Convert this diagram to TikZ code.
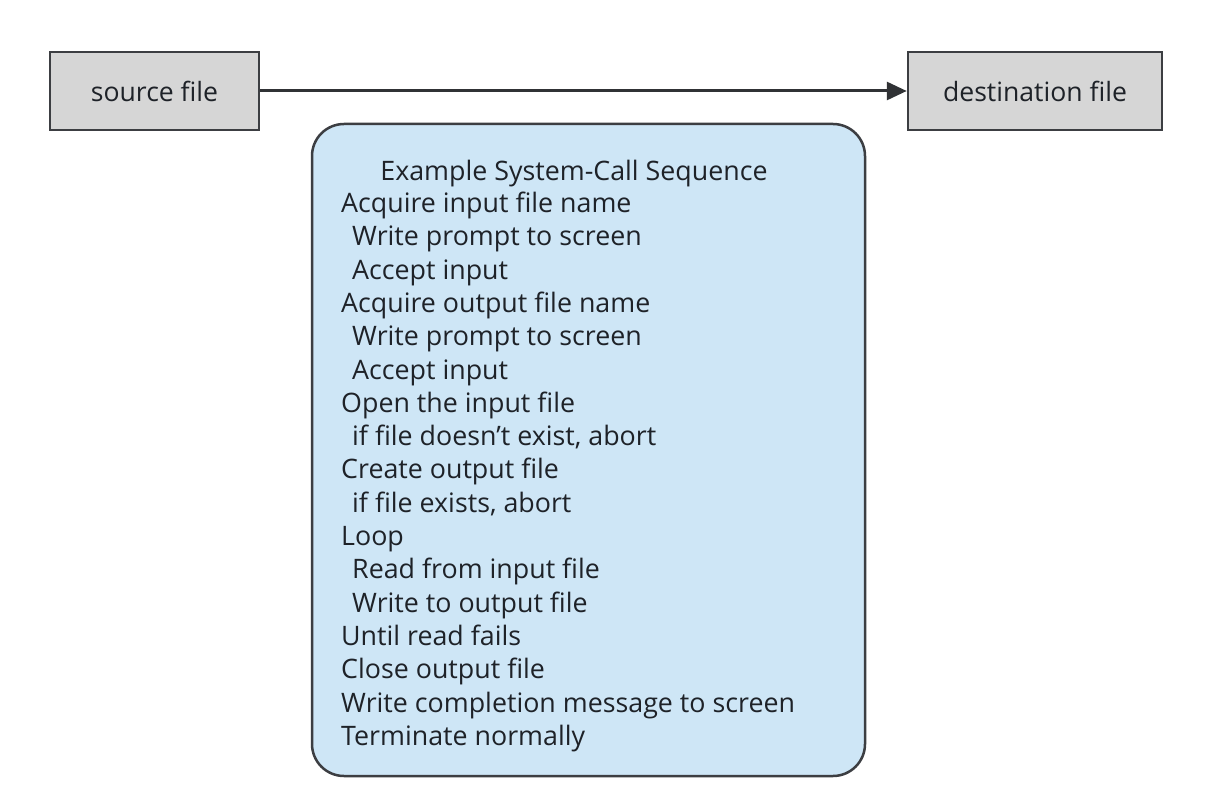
\documentclass[tikz,border=0pt]{standalone}
\usepackage{fontspec}
\setmainfont{Open Sans}
\usetikzlibrary{arrows.meta}
\definecolor{boxgray}{RGB}{214,214,214}
\definecolor{boxblue}{RGB}{206,230,246}
\definecolor{edge}{RGB}{60,62,66}
\definecolor{ink}{RGB}{30,34,40}
\tikzset{
  filebox/.style={draw=edge, line width=2.5pt, fill=boxgray, text=ink, font=\fontsize{26.6}{30}\selectfont, inner sep=0pt},
  seqbox/.style={draw=edge, line width=2.5pt, fill=boxblue, rounded corners=32pt, inner sep=0pt},
  seqtext/.style={text=ink, font=\fontsize{26.8}{30}\selectfont, inner sep=0pt, anchor=base west},
  flow/.style={draw=edge!80!black, line width=3pt, -{Triangle[length=20pt,width=18pt]}}
}
\begin{document}
\begin{tikzpicture}[x=1pt,y=-1pt]
\useasboundingbox (0,0) rectangle (1210,802);
\node[filebox, minimum width=209pt, minimum height=78pt] (src) at (154.5,91) {source file};
\node[filebox, minimum width=254pt, minimum height=78pt] (dst) at (1035,91) {destination file};
\draw[flow] (src.east) -- (dst.west);
\node[seqbox, minimum width=553pt, minimum height=652pt] (seq) at (588.5,450) {};
\node[seqtext, anchor=base] (title) at (574,180.5) {Example System-Call Sequence};
\foreach \txt [count=\i from 0] in {%
Acquire input file name,
\hspace{11pt}Write prompt to screen,
\hspace{11pt}Accept input,
Acquire output file name,
\hspace{11pt}Write prompt to screen,
\hspace{11pt}Accept input,
Open the input file,
\hspace{11pt}if file doesn't exist{,} abort,
Create output file,
\hspace{11pt}if file exists{,} abort,
Loop,
\hspace{11pt}Read from input file,
\hspace{11pt}Write to output file,
Until read fails,
Close output file,
Write completion message to screen,
Terminate normally}
  \node[seqtext] (line\i) at (341,{212.5+33.3*\i}) {\txt};
\end{tikzpicture}
\end{document}
